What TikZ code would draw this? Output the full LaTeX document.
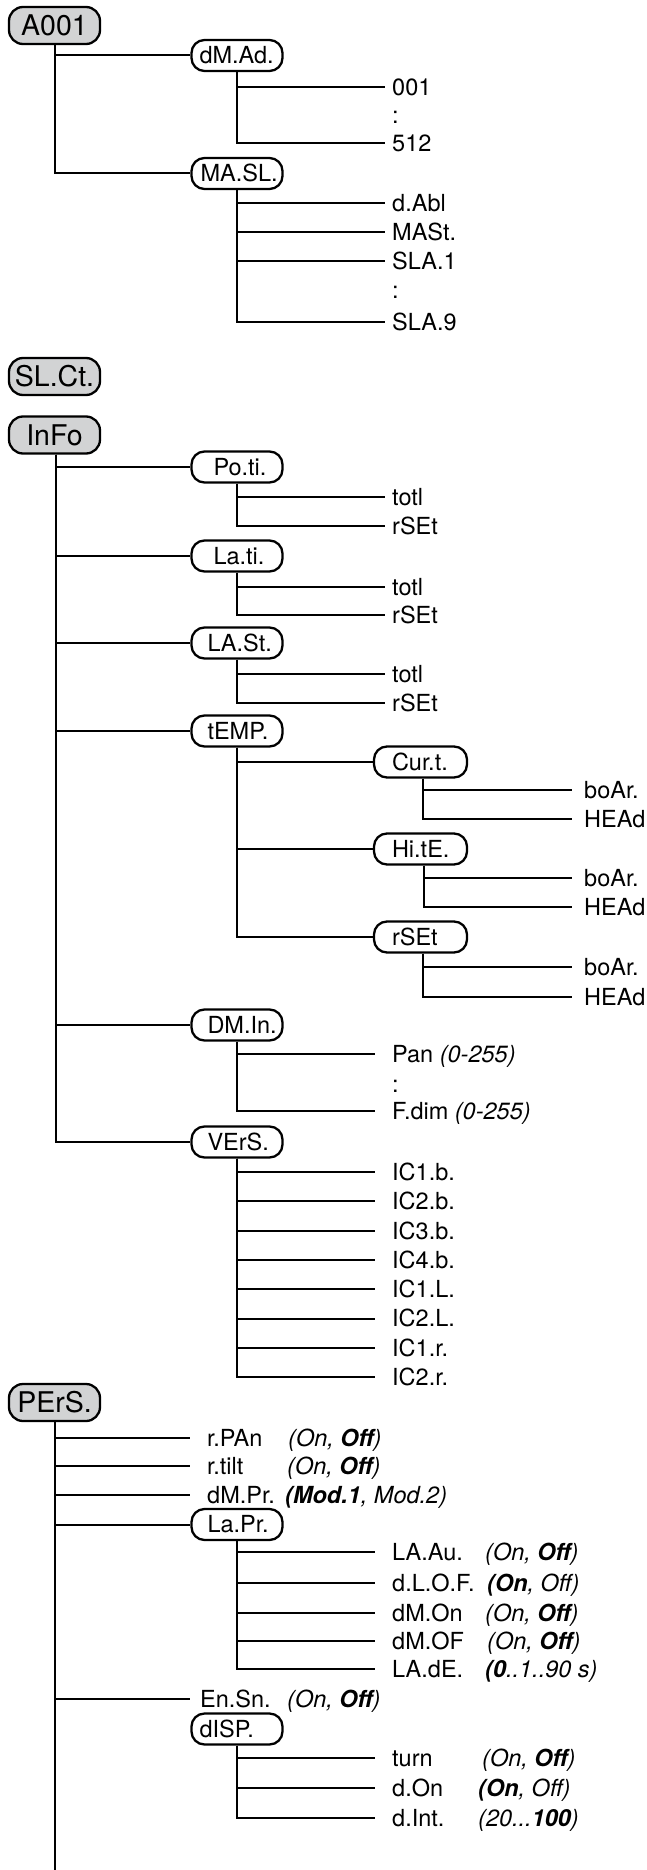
\documentclass[tikz,border=0pt]{standalone}
\usepackage{fontspec}
\setmainfont{TeX Gyre Heros}
\definecolor{boxgray}{RGB}{210,211,212}
\newcommand{\normfont}{\fontsize{23.5}{26}\selectfont}
\newcommand{\sbx}[3][91]{\makebox[#1pt][l]{\hspace*{#2pt}#3}}
\begin{document}
\begin{tikzpicture}[x=1pt,y=-1pt,
  top/.style={draw, line width=2.3pt, rounded corners=14pt, fill=boxgray, minimum width=91pt, minimum height=37pt, inner sep=0pt, font=\fontsize{28.5}{30}\selectfont, text height=20.5pt, text depth=0pt},
  sub/.style={draw, line width=2.3pt, rounded corners=13pt, minimum height=31pt, inner sep=0pt, font=\normfont, text height=16.8pt, text depth=0pt},
  conn/.style={line width=2pt},
  leaf/.style={anchor=west, inner ysep=0pt, inner xsep=#1, font=\normfont, text height=16.8pt, text depth=0pt},
  leaf/.default=7pt,
  val/.style={anchor=west, inner sep=0pt, font=\normfont\itshape, text height=16.8pt, text depth=0pt}
]
\useasboundingbox (0,0) rectangle (647,1870);

% ---------------- A001 ----------------
\node[top] (A001) at (54.5,25.5) {A001};
\node[sub] (dMAd) at (237,55.5) {\sbx{8}{dM.Ad.}};
\node[sub] (MASL) at (237,173.5) {\sbx{9}{MA.SL.}};
\draw[conn] (A001.south) |- (dMAd.west);
\draw[conn] (A001.south) |- (MASL.west);

\node[leaf] (a1) at (385,87) {001};
\node[leaf=0pt] (ac1) at (392,115) {:};
\node[leaf] (a2) at (385,143) {512};
\foreach \n in {a1,a2} \draw[conn] (dMAd.south) |- (\n.west);

\node[leaf] (m1) at (385,203) {d.Abl};
\node[leaf] (m2) at (385,232) {MASt.};
\node[leaf] (m3) at (385,261) {SLA.1};
\node[leaf=0pt] (mc1) at (392,290) {:};
\node[leaf] (m4) at (385,322) {SLA.9};
\foreach \n in {m1,m2,m3,m4} \draw[conn] (MASL.south) |- (\n.west);

% ---------------- SL.Ct. ----------------
\node[top] (SLCt) at (54.5,376.5) {SL.Ct.};

% ---------------- InFo ----------------
\node[top] (InFo) at (54.5,435) {InFo};
\node[sub] (Poti) at (237,467) {\sbx{22}{Po.ti.}};
\node[sub] (Lati) at (237,556) {\sbx{22}{La.ti.}};
\node[sub] (LASt) at (237,643) {\sbx{16}{LA.St.}};
\node[sub] (tEMP) at (237,731) {\sbx{16}{tEMP.}};
\node[sub] (DMIn) at (237,1025) {\sbx{16}{DM.In.}};
\node[sub] (VErS) at (237,1142) {\sbx{16}{VErS.}};
\foreach \n in {Poti,Lati,LASt,tEMP,DMIn,VErS} \draw[conn] ([xshift=1.5pt]InFo.south) |- (\n.west);

\node[leaf] (p1) at (385,497) {totl};
\node[leaf] (p2) at (385,526) {rSEt};
\foreach \n in {p1,p2} \draw[conn] (Poti.south) |- (\n.west);
\node[leaf] (q1) at (385,587) {totl};
\node[leaf] (q2) at (385,615) {rSEt};
\foreach \n in {q1,q2} \draw[conn] (Lati.south) |- (\n.west);
\node[leaf] (s1) at (385,674) {totl};
\node[leaf] (s2) at (385,703) {rSEt};
\foreach \n in {s1,s2} \draw[conn] (LASt.south) |- (\n.west);

% tEMP subtree
\node[sub] (Curt) at (420.5,762) {\sbx[93]{18}{Cur.t.}};
\node[sub] (HitE) at (420.5,849) {\sbx[93]{18}{Hi.tE.}};
\node[sub] (rSEt) at (420.5,937) {\sbx[93]{18}{rSEt}};
\foreach \n in {Curt,HitE,rSEt} \draw[conn] (tEMP.south) |- (\n.west);

\node[leaf=12pt] (c1) at (572,790) {boAr.};
\node[leaf=12pt] (c2) at (572,819) {HEAd};
\foreach \n in {c1,c2} \draw[conn] ([xshift=2pt]Curt.south) |- (\n.west);
\node[leaf=12pt] (h1) at (572,878) {boAr.};
\node[leaf=12pt] (h2) at (572,907) {HEAd};
\foreach \n in {h1,h2} \draw[conn] ([xshift=3pt]HitE.south) |- (\n.west);
\node[leaf=12pt] (r1) at (572,967) {boAr.};
\node[leaf=12pt] (r2) at (572,997) {HEAd};
\foreach \n in {r1,r2} \draw[conn] ([xshift=2.5pt]rSEt.south) |- (\n.west);

% DM.In.
\node[leaf=17pt] (d1) at (375,1054) {Pan \textit{(0-255)}};
\node[leaf=0pt] (dc1) at (392,1084) {:};
\node[leaf=17pt] (d2) at (375,1111) {F.dim \textit{(0-255)}};
\foreach \n in {d1,d2} \draw[conn] (DMIn.south) |- (\n.west);

% VErS.
\foreach \t [count=\i from 0] in {IC1.b.,IC2.b.,IC3.b.,IC4.b.,IC1.L.,IC2.L.,IC1.r.,IC2.r.}{
  \node[leaf=17pt] (v\i) at (375,1172+29.3*\i) {\t};
  \draw[conn] (VErS.south) |- (v\i.west);
}

% ---------------- PErS. ----------------
\node[top] (PErS) at (54.5,1402.5) {PErS.};
\coordinate (pend) at (54.5,1870);
\draw[conn] (PErS.south) -- (pend);

\node[leaf=17pt] (e1) at (190,1438) {r.PAn};
\node[val] (e1v) at (288,1438) {(On, \textbf{Off})};
\node[leaf=17pt] (e2) at (190,1466) {r.tilt};
\node[val] (e2v) at (287,1466) {(On, \textbf{Off})};
\node[leaf=17pt] (e3) at (190,1495) {dM.Pr.};
\node[val] (e3v) at (285,1495) {\textbf{(Mod.1}, Mod.2)};
\node[sub] (LaPr) at (237,1524.5) {\sbx{16}{La.Pr.}};
\node[leaf=10pt] (e5) at (190,1699) {En.Sn.};
\node[val] (e5v) at (287,1699) {(On, \textbf{Off})};
\node[sub] (dISP) at (237,1729) {\sbx{8}{dISP.}};
\foreach \n in {e1,e2,e3,LaPr,e5} \draw[conn] (PErS.south) |- (\n.west);

% La.Pr.
\node[leaf=17pt] (f1) at (375,1552) {LA.Au.};
\node[val] at (485,1552) {(On, \textbf{Off})};
\node[leaf=17pt] (f2) at (375,1583) {d.L.O.F.};
\node[val] at (487,1583) {\textbf{(On}, Off)};
\node[leaf=17pt] (f3) at (375,1613) {dM.On};
\node[val] at (485,1613) {(On, \textbf{Off})};
\node[leaf=17pt] (f4) at (375,1641) {dM.OF};
\node[val] at (487,1641) {(On, \textbf{Off})};
\node[leaf=17pt] (f5) at (375,1669) {LA.dE.};
\node[val] at (485,1669) {\textbf{(0}..1..90 s)};
\foreach \n in {f1,f2,f3,f4,f5} \draw[conn] (LaPr.south) |- (\n.west);

% dISP.
\node[leaf=17pt] (g1) at (375,1758) {turn};
\node[val] at (482,1758) {(On, \textbf{Off})};
\node[leaf=17pt] (g2) at (375,1788) {d.On};
\node[val] at (478,1788) {\textbf{(On}, Off)};
\node[leaf=17pt] (g3) at (375,1818) {d.Int.};
\node[val] at (478,1818) {(20...\textbf{100})};
\foreach \n in {g1,g2,g3} \draw[conn] (dISP.south) |- (\n.west);
\end{tikzpicture}
\end{document}
